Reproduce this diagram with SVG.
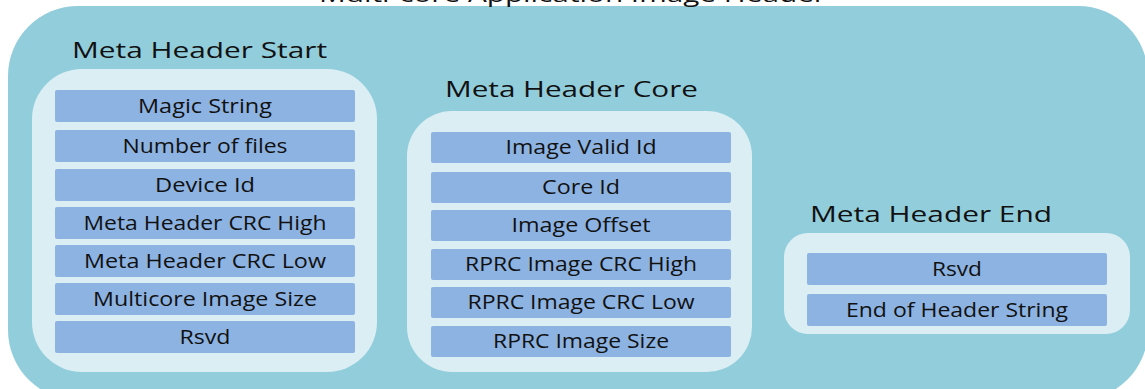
<svg xmlns="http://www.w3.org/2000/svg" width="1145" height="389" viewBox="0 0 1145 389">
  <style>
    .outer { fill: #92CDDC; }
    .panel { fill: #DAEEF3; }
    .row { fill: #8DB3E2; }
    .title { font-family: "Open Sans", "Liberation Sans", sans-serif; font-size: 22px; fill: #111; text-anchor: middle; }
    .label { font-family: "Open Sans", "Liberation Sans", sans-serif; font-size: 20px; fill: #111; text-anchor: middle; }
  </style>

  <!-- Enclosing container -->
  <rect class="outer" x="8" y="6" width="1140" height="394" rx="70" ry="70"/>
  <text class="title" x="572.5" y="1.5" textLength="507" lengthAdjust="spacingAndGlyphs">Multi-core Application Image Header</text>

  <!-- Meta Header Start -->
  <g id="meta-header-start">
    <text class="title" x="199.5" y="58" textLength="255" lengthAdjust="spacingAndGlyphs">Meta Header Start</text>
    <rect class="panel" x="32" y="69" width="345" height="303" rx="50" ry="50"/>
    <g id="start-magic-string">
      <rect class="row" x="55" y="90" width="300" height="32" rx="2"/>
      <text class="label" x="205" y="112.5" textLength="134" lengthAdjust="spacingAndGlyphs">Magic String</text>
    </g>
    <g id="start-number-of-files">
      <rect class="row" x="55" y="130" width="300" height="32" rx="2"/>
      <text class="label" x="205" y="152.5" textLength="165" lengthAdjust="spacingAndGlyphs">Number of files</text>
    </g>
    <g id="start-device-id">
      <rect class="row" x="55" y="169" width="300" height="32" rx="2"/>
      <text class="label" x="205" y="191.5" textLength="100" lengthAdjust="spacingAndGlyphs">Device Id</text>
    </g>
    <g id="start-crc-high">
      <rect class="row" x="55" y="207" width="300" height="32" rx="2"/>
      <text class="label" x="205" y="229.5" textLength="243" lengthAdjust="spacingAndGlyphs">Meta Header CRC High</text>
    </g>
    <g id="start-crc-low">
      <rect class="row" x="55" y="245" width="300" height="32" rx="2"/>
      <text class="label" x="205" y="267.5" textLength="242" lengthAdjust="spacingAndGlyphs">Meta Header CRC Low</text>
    </g>
    <g id="start-image-size">
      <rect class="row" x="55" y="283" width="300" height="32" rx="2"/>
      <text class="label" x="205" y="305.5" textLength="224" lengthAdjust="spacingAndGlyphs">Multicore Image Size</text>
    </g>
    <g id="start-rsvd">
      <rect class="row" x="55" y="321" width="300" height="32" rx="2"/>
      <text class="label" x="205" y="343.5" textLength="51" lengthAdjust="spacingAndGlyphs">Rsvd</text>
    </g>
  </g>

  <!-- Meta Header Core -->
  <g id="meta-header-core">
    <text class="title" x="571.5" y="97" textLength="253" lengthAdjust="spacingAndGlyphs">Meta Header Core</text>
    <rect class="panel" x="407" y="111" width="345" height="261" rx="45" ry="45"/>
    <g id="core-image-valid-id">
      <rect class="row" x="431" y="132" width="300" height="31" rx="2"/>
      <text class="label" x="581" y="154" textLength="151" lengthAdjust="spacingAndGlyphs">Image Valid Id</text>
    </g>
    <g id="core-core-id">
      <rect class="row" x="431" y="172" width="300" height="31" rx="2"/>
      <text class="label" x="581" y="194" textLength="78" lengthAdjust="spacingAndGlyphs">Core Id</text>
    </g>
    <g id="core-image-offset">
      <rect class="row" x="431" y="210" width="300" height="31" rx="2"/>
      <text class="label" x="581" y="232" textLength="139" lengthAdjust="spacingAndGlyphs">Image Offset</text>
    </g>
    <g id="core-crc-high">
      <rect class="row" x="431" y="249" width="300" height="31" rx="2"/>
      <text class="label" x="581" y="271" textLength="232" lengthAdjust="spacingAndGlyphs">RPRC Image CRC High</text>
    </g>
    <g id="core-crc-low">
      <rect class="row" x="431" y="287" width="300" height="31" rx="2"/>
      <text class="label" x="581" y="309" textLength="227" lengthAdjust="spacingAndGlyphs">RPRC Image CRC Low</text>
    </g>
    <g id="core-image-size">
      <rect class="row" x="431" y="326" width="300" height="31" rx="2"/>
      <text class="label" x="581" y="348" textLength="176" lengthAdjust="spacingAndGlyphs">RPRC Image Size</text>
    </g>
  </g>

  <!-- Meta Header End -->
  <g id="meta-header-end">
    <text class="title" x="931" y="222" textLength="242" lengthAdjust="spacingAndGlyphs">Meta Header End</text>
    <rect class="panel" x="784" y="233" width="346" height="101" rx="24" ry="24"/>
    <g id="end-rsvd">
      <rect class="row" x="807" y="253" width="300" height="32" rx="2"/>
      <text class="label" x="957" y="275.5" textLength="50" lengthAdjust="spacingAndGlyphs">Rsvd</text>
    </g>
    <g id="end-header-string">
      <rect class="row" x="807" y="294" width="300" height="32" rx="2"/>
      <text class="label" x="957" y="316.5" textLength="222" lengthAdjust="spacingAndGlyphs">End of Header String</text>
    </g>
  </g>

  <!-- No connectors in this layout -->
  <g id="connectors"/>
</svg>
